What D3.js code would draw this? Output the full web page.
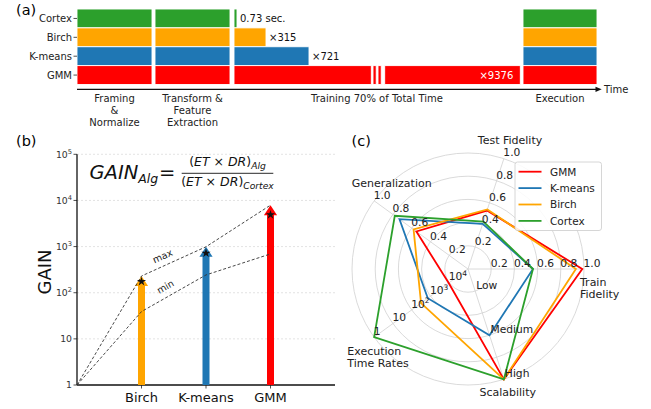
<!DOCTYPE html>
<html><head><meta charset="utf-8">
<script src="https://cdn.jsdelivr.net/npm/d3@7"></script>
<style>body{margin:0;background:#fff;} svg{display:block;font-family:"DejaVu Sans",sans-serif;}</style>
</head><body><svg id="c" width="651" height="409"></svg>
<script>
// ---------- Panel (a) data ----------
const algorithms = ["Cortex", "Birch", "K-means", "GMM"];
const phaseNames = ["Framing\n&\nNormalize", "Transform &\nFeature\nExtraction", "Training 70% of Total Time", "Execution"];
const phaseStart = [0, 78, 157, 446];
const phaseEnd = [75, 153, 443, 520];
const trainSegments = [
  [[157, 160]],
  [[157, 189]],
  [[157, 232]],
  [[157, 294.3], [296, 299.2], [301, 304.2], [307.7, 443.3]]
];
const trainLabels = ["0.73 sec.", "×315", "×721", "×9376"];

// ---------- Panel (b) data ----------
const gainCats = ["Birch", "K-means", "GMM"];
const gainCatPos = [1, 2, 3];
const gainMax = [230, 990, 7900];
const gainMin = [39, 243, 693];
const gainStar = [175, 720, 4900];
const gainTicks = [1, 10, 100, 1000, 10000, 100000];

// ---------- Panel (c) data ----------
const radarSeries = ["GMM", "K-means", "Birch", "Cortex"];
const trainFidelity = [0.985, 0.56, 0.93, 0.56];
const testFidelity = [0.53, 0.41, 0.54, 0.43];
const generalization = [0.55, 0.73, 0.58, 0.78];
const execTimeRatio = [9376, 721, 315, 1];
const scalability = ["High", "Medium", "High", "High"];
const scalabilityLevels = ["Low", "Medium", "High"];
const fidelityTicks = [0.2, 0.4, 0.6, 0.8, 1.0];
const execTicks = [10000, 1000, 100, 10, 1];

// ---------- styles ----------
const colors = {"Cortex": "#2ca02c", "Birch": "#ffa500", "K-means": "#1f77b4", "GMM": "#ff0000"};
const svg = d3.select("#c");

function supText(sel, base, exp, sizeBase, sizeExp) {
  sel.append("tspan").text(base).attr("font-size", sizeBase);
  if (exp !== null) sel.append("tspan").text(exp).attr("font-size", sizeExp).attr("dy", -sizeBase * 0.42);
}

// ================= Panel (a) =================
const xa = d3.scaleLinear().domain([0, 525]).range([77, 602]);
const ya = d3.scaleBand().domain(algorithms).range([9, 84.5]);
const ga = svg.append("g");
svg.append("text").attr("x", 16).attr("y", 15).attr("font-size", 14.5).text("(a)");

algorithms.forEach((alg, i) => {
  [0, 1, 3].forEach(p => {
    ga.append("rect").attr("x", xa(phaseStart[p])).attr("width", xa(phaseEnd[p]) - xa(phaseStart[p]))
      .attr("y", ya(alg)).attr("height", ya.bandwidth())
      .attr("fill", colors[alg]).attr("stroke", "#fff").attr("stroke-width", 0.9);
  });
  trainSegments[i].forEach(s => {
    ga.append("rect").attr("x", xa(s[0])).attr("width", xa(s[1]) - xa(s[0]))
      .attr("y", ya(alg)).attr("height", ya.bandwidth())
      .attr("fill", colors[alg]).attr("stroke", "#fff").attr("stroke-width", 0.9);
  });
  const segs = trainSegments[i];
  const endX = xa(segs[segs.length - 1][1]);
  const cy = ya(alg) + ya.bandwidth() / 2;
  if (alg === "GMM") {
    ga.append("text").attr("x", endX - 7).attr("y", cy + 3.7).attr("text-anchor", "end")
      .attr("font-size", 10).attr("fill", "#fff").text(trainLabels[i]);
  } else {
    ga.append("text").attr("x", endX + 3).attr("y", cy + 3.7)
      .attr("font-size", 10).attr("fill", "#111").text(trainLabels[i]);
  }
  ga.append("line").attr("x1", 73.5).attr("x2", 77).attr("y1", cy).attr("y2", cy).attr("stroke", "#222").attr("stroke-width", 0.8);
  ga.append("text").attr("x", 72).attr("y", cy + 3.6).attr("text-anchor", "end").attr("font-size", 10).attr("fill", "#222").text(alg);
});
// time axis
const axY = 89.3;
ga.append("line").attr("x1", xa(0)).attr("x2", xa(520)).attr("y1", axY).attr("y2", axY).attr("stroke", "#111").attr("stroke-width", 1.2);
ga.append("path").attr("d", `M${xa(524.7)},${axY} L${xa(518.5)},${axY - 2.6} L${xa(518.5)},${axY + 2.6} Z`).attr("fill", "#111");
ga.append("text").attr("x", 604).attr("y", axY + 3.6).attr("font-size", 10).attr("fill", "#222").text("Time");
phaseNames.forEach((name, p) => {
  const cx = xa((phaseStart[p] + phaseEnd[p]) / 2);
  name.split("\n").forEach((ln, k) => {
    ga.append("text").attr("x", cx).attr("y", 102 + k * 12).attr("text-anchor", "middle")
      .attr("font-size", 10).attr("fill", "#222").text(ln);
  });
});

// ================= Panel (b) =================
const gb = svg.append("g");
svg.append("text").attr("x", 16).attr("y", 146).attr("font-size", 14.5).text("(b)");
const xb = d3.scaleLinear().domain([0, 4]).range([77, 335]);
const yb = d3.scaleLog().domain([1, 1e5]).range([385, 154.3]);

gainTicks.forEach(t => {
  if (t > 1) gb.append("line").attr("x1", xb(0)).attr("x2", xb(4)).attr("y1", yb(t)).attr("y2", yb(t))
    .attr("stroke", "#dcdcdc").attr("stroke-width", 0.8).attr("stroke-dasharray", "2,2");
  gb.append("line").attr("x1", 73.5).attr("x2", 77).attr("y1", yb(t)).attr("y2", yb(t)).attr("stroke", "#222").attr("stroke-width", 0.8);
  const e = Math.round(Math.log10(t));
  const tx = gb.append("text").attr("x", 72).attr("y", yb(t) + 3.3).attr("text-anchor", "end").attr("fill", "#333");
  if (e === 0) supText(tx, "1", null, 9.3, 6.7);
  else if (e === 1) supText(tx, "10", null, 9.3, 6.7);
  else supText(tx, "10", String(e), 9.3, 6.7);
});
gb.append("line").attr("x1", xb(0)).attr("x2", xb(0)).attr("y1", yb(1e5)).attr("y2", yb(1)).attr("stroke", "#111").attr("stroke-width", 1.3);
gb.append("line").attr("x1", xb(0)).attr("x2", xb(4)).attr("y1", yb(1)).attr("y2", yb(1)).attr("stroke", "#111").attr("stroke-width", 1.3);

// dashed max / min lines
const dashLine = d3.line().x(d => xb(d[0])).y(d => yb(d[1]));
const maxPts = [[0, 1]].concat(gainCatPos.map((p, i) => [p, gainMax[i]]));
const minPts = [[0, 1]].concat(gainCatPos.map((p, i) => [p, gainMin[i]]));

// arrows
gainCats.forEach((c, i) => {
  const x = xb(gainCatPos[i]);
  const yTip = yb(gainMax[i]);
  const yBase = yb(1);
  const hw = 3.5, headW = 6.6, headL = 10;
  const pts = [[x - hw, yBase], [x - hw, yTip + headL], [x - headW, yTip + headL], [x, yTip], [x + headW, yTip + headL], [x + hw, yTip + headL], [x + hw, yBase]];
  gb.append("path").attr("d", "M" + pts.map(p => p.join(",")).join("L") + "Z").attr("fill", colors[c]);
  gb.append("text").attr("x", x).attr("y", 401.5).attr("text-anchor", "middle").attr("font-size", 13).attr("fill", "#111").text(c);
  gb.append("line").attr("x1", x).attr("x2", x).attr("y1", yBase).attr("y2", yBase + 3.5).attr("stroke", "#222").attr("stroke-width", 0.8);
});
gb.append("path").attr("d", dashLine(maxPts)).attr("fill", "none").attr("stroke", "#333").attr("stroke-width", 0.9).attr("stroke-dasharray", "3,2");
gb.append("path").attr("d", dashLine(minPts)).attr("fill", "none").attr("stroke", "#333").attr("stroke-width", 0.9).attr("stroke-dasharray", "3,2");
gainCats.forEach((c, i) => {
  gb.append("path").attr("d", d3.symbol(d3.symbolStar, 26)())
    .attr("transform", `translate(${xb(gainCatPos[i])},${yb(gainStar[i])})`).attr("fill", "#111");
});
// max / min labels
function midLabel(pts, k, txt, off, along) {
  const a = [xb(pts[k][0]), yb(pts[k][1])], b = [xb(pts[k + 1][0]), yb(pts[k + 1][1])];
  const ang = Math.atan2(b[1] - a[1], b[0] - a[0]) * 180 / Math.PI;
  const mx = (a[0] + b[0]) / 2, my = (a[1] + b[1]) / 2;
  gb.append("text").attr("transform", `translate(${mx},${my}) rotate(${ang}) translate(${along},${-off})`)
    .attr("text-anchor", "middle").attr("font-size", 9.5).attr("fill", "#222").text(txt);
}
midLabel(maxPts, 1, "max", 6, -8);
midLabel(minPts, 1, "min", 6.5, -4);

gb.append("text").attr("transform", "translate(51,272) rotate(-90)").attr("text-anchor", "middle")
  .attr("font-size", 18).attr("fill", "#111").text("GAIN");

// formula
const fg = gb.append("g").attr("fill", "#111");
const g1 = fg.append("text").attr("x", 89.5).attr("y", 178.5).attr("font-style", "italic");
g1.append("tspan").attr("font-size", 19.5).text("GAIN");
g1.append("tspan").attr("font-size", 12.5).attr("dy", 4.5).text("Alg");
fg.append("text").attr("x", 159).attr("y", 179).attr("font-size", 19.5).text("=");
fg.append("line").attr("x1", 181.7).attr("x2", 273.3).attr("y1", 173.3).attr("y2", 173.3).attr("stroke", "#111").attr("stroke-width", 0.9);
function fracPart(y, sub) {
  const t = fg.append("text").attr("x", 227.5).attr("y", y).attr("text-anchor", "middle").attr("font-size", 12.5);
  t.append("tspan").text("(");
  t.append("tspan").attr("font-style", "italic").text("ET");
  t.append("tspan").text(" × ");
  t.append("tspan").attr("font-style", "italic").text("DR");
  t.append("tspan").text(")");
  t.append("tspan").attr("font-style", "italic").attr("font-size", 9.2).attr("dy", 3).text(sub);
}
fracPart(166, "Alg");
fracPart(186.2, "Cortex");

// ================= Panel (c) =================
const gc = svg.append("g");
svg.append("text").attr("x", 351.5).attr("y", 146).attr("font-size", 14.5).text("(c)");
const cx = 468, cy = 269;
const rScale = d3.scaleLinear().domain([0, 1]).range([0, 116]);
const execScale = d3.scaleLog().domain([1e5, 1]).range([0, 1]);
const scalScale = d3.scalePoint().domain(scalabilityLevels).range([0.2, 1.0]);
const axisAngles = [0, 72, 144, 216, 288].map(d => d * Math.PI / 180); // CCW from east
const pt = (a, v) => [cx + rScale(v) * Math.cos(a), cy - rScale(v) * Math.sin(a)];

const gridC = "#d0d0d0";
fidelityTicks.forEach(t => {
  gc.append("circle").attr("cx", cx).attr("cy", cy).attr("r", rScale(t)).attr("fill", "none").attr("stroke", gridC).attr("stroke-width", 0.8);
});
axisAngles.forEach(a => {
  const p = pt(a, 1);
  gc.append("line").attr("x1", cx).attr("y1", cy).attr("x2", p[0]).attr("y2", p[1]).attr("stroke", gridC).attr("stroke-width", 0.8);
});

// polygons
const radial = d3.lineRadial().angle(d => Math.PI / 2 - d[0]).radius(d => rScale(d[1])).curve(d3.curveLinearClosed);
radarSeries.forEach((s, i) => {
  const vals = [trainFidelity[i], testFidelity[i], generalization[i], execScale(execTimeRatio[i]), scalScale(scalability[i])];
  gc.append("path").attr("transform", `translate(${cx},${cy})`)
    .attr("d", radial(vals.map((v, k) => [axisAngles[k], v])))
    .attr("fill", "none").attr("stroke", colors[s]).attr("stroke-width", 1.8).attr("stroke-linejoin", "miter");
});

// tick labels
const tfs = 10.7;
[0, 1, 2].forEach(k => {
  fidelityTicks.forEach(t => {
    const p = pt(axisAngles[k], t);
    gc.append("text").attr("x", p[0] - 0.5).attr("y", p[1] - 2.2).attr("font-size", tfs).attr("fill", "#222").text(t.toFixed(1));
  });
});
execTicks.forEach(t => {
  const p = pt(axisAngles[3], execScale(t));
  const e = Math.round(Math.log10(t));
  const tx = gc.append("text").attr("x", p[0] - 0.5).attr("y", p[1] - 2.2).attr("fill", "#222");
  if (e === 0) supText(tx, "1", null, tfs, 7.5);
  else if (e === 1) supText(tx, "10", null, tfs, 7.5);
  else supText(tx, "10", String(e), tfs, 7.5);
});
scalabilityLevels.forEach(l => {
  const p = pt(axisAngles[4], scalScale(l));
  gc.append("text").attr("x", p[0] + 1).attr("y", p[1] - 2.2).attr("font-size", tfs).attr("fill", "#222").text(l);
});

// axis titles (offsets relative to centre)
const axisTitles = [
  {lines: ["Train", "Fidelity"], dx: 112, dy: 16.5, anchor: "start"},
  {lines: ["Test Fidelity"], dx: 42, dy: -125, anchor: "middle"},
  {lines: ["Generalization"], dx: -76.3, dy: -82.5, anchor: "middle"},
  {lines: ["Execution", "Time Rates"], dx: -120.7, dy: 86, anchor: "start"},
  {lines: ["Scalability"], dx: 39.7, dy: 126.5, anchor: "middle"}
];
axisTitles.forEach(a => {
  a.lines.forEach((ln, k) => {
    gc.append("text").attr("x", cx + a.dx).attr("y", cy + a.dy + k * 12.4).attr("text-anchor", a.anchor)
      .attr("font-size", 11).attr("fill", "#222").text(ln);
  });
});

// legend
const lg = gc.append("g");
lg.append("rect").attr("x", 515).attr("y", 162).attr("width", 86.5).attr("height", 68.5).attr("rx", 2.5)
  .attr("fill", "#fff").attr("fill-opacity", 0.85).attr("stroke", "#cccccc").attr("stroke-width", 0.8);
radarSeries.forEach((s, i) => {
  const y = 171.7 + i * 16.4;
  lg.append("line").attr("x1", 518.5).attr("x2", 541.5).attr("y1", y).attr("y2", y).attr("stroke", colors[s]).attr("stroke-width", 1.8);
  lg.append("text").attr("x", 550).attr("y", y + 3.8).attr("font-size", 10.5).attr("fill", "#222").text(s);
});
</script></body></html>
